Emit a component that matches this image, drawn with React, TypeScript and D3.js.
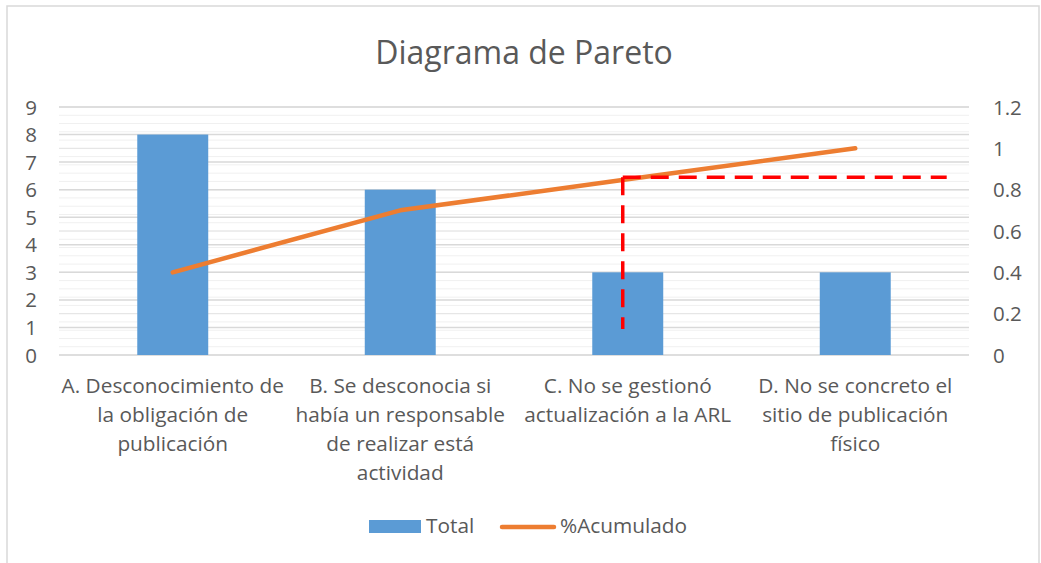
import React from "react";
import * as d3 from "d3";

const categories = [
  "A. Desconocimiento de\nla obligación de\npublicación",
  "B. Se desconocia si\nhabía un responsable\nde realizar está\nactividad",
  "C. No se gestionó\nactualización a la ARL",
  "D. No se concreto el\nsitio de publicación\nfísico",
];
const totals = [8, 6, 3, 3];
const acumulado = [0.4, 0.7, 0.85, 1.0];
const leftTicks = [0, 1, 2, 3, 4, 5, 6, 7, 8, 9];
const rightTicks = [0, 0.2, 0.4, 0.6, 0.8, 1, 1.2];
// Pareto cut annotation (category-position units, right-axis values)
const cutX = [2.478, 3.902];
const cutValue = 0.86;
const cutBottom = 0.126;

const W = 1041;
const H = 563;
const FONT = "'Open Sans', sans-serif";
const TEXT = "#595959";

export default function App() {
  const left = 59, right = 969, top = 107, bottom = 355;
  const x = d3.scaleBand<string>().domain(categories).range([left, right]).paddingInner(0.688).paddingOuter(0.344);
  const pos = d3.scaleLinear().domain([0, categories.length]).range([left, right]);
  const yL = d3.scaleLinear().domain([0, 9]).range([bottom, top]);
  const yR = d3.scaleLinear().domain([0, 1.2]).range([bottom, top]);
  const minor = d3.range(0, 1.2001, 0.04);
  const cx = (c: string) => (x(c) as number) + x.bandwidth() / 2;
  const line = d3
    .line<number>()
    .x((_, i) => cx(categories[i]))
    .y((d) => yR(d));

  return (
    <svg width={W} height={H} style={{ position: "absolute", left: 0, top: 0, background: "#fff" }} fontFamily={FONT}>
      <rect x={7} y={6} width={1032} height={620} fill="#fff" stroke="#d9d9d9" strokeWidth={1.5} />
      <text x={524} y={64} textAnchor="middle" fontSize={32} fill={TEXT}>
        Diagrama de Pareto
      </text>
      {minor.map((v, i) => (
        <line key={"m" + i} x1={left} x2={right} y1={yR(v)} y2={yR(v)} stroke="#f0f0f0" strokeWidth={1} />
      ))}
      {rightTicks.map((v, i) => (
        <line key={"r" + i} x1={left} x2={right} y1={yR(v)} y2={yR(v)} stroke="#e4e4e4" strokeWidth={1} />
      ))}
      {leftTicks.map((v, i) => (
        <line key={"l" + i} x1={left} x2={right} y1={yL(v)} y2={yL(v)} stroke="#d9d9d9" strokeWidth={1.5} />
      ))}
      {categories.map((c, i) => (
        <rect key={"b" + i} x={x(c)} y={yL(totals[i])} width={x.bandwidth()} height={bottom - yL(totals[i])} fill="#5b9bd5" />
      ))}
      <path d={line(acumulado) || ""} fill="none" stroke="#ed7d31" strokeWidth={4.5} strokeLinecap="round" strokeLinejoin="round" />
      <line x1={pos(cutX[0])} x2={pos(cutX[0])} y1={yR(cutValue)} y2={yR(cutBottom)} stroke="#ff0000" strokeWidth={3.5} strokeDasharray="18 10" />
      <line x1={pos(cutX[0])} x2={pos(cutX[1])} y1={yR(cutValue)} y2={yR(cutValue)} stroke="#ff0000" strokeWidth={3.5} strokeDasharray="18 10" />
      {leftTicks.map((v, i) => (
        <text key={"lt" + i} x={37} y={yL(v) + 7.5} textAnchor="end" fontSize={20.5} fill={TEXT}>
          {v}
        </text>
      ))}
      {rightTicks.map((v, i) => (
        <text key={"rt" + i} x={993} y={yR(v) + 7.5} textAnchor="start" fontSize={20.5} fill={TEXT}>
          {String(v)}
        </text>
      ))}
      {categories.map((c, i) => (
        <text key={"c" + i} x={cx(c)} y={393} textAnchor="middle" fontSize={20.8} fill={TEXT}>
          {c.split("\n").map((ln, j) => (
            <tspan key={j} x={cx(c)} y={393 + j * 29}>
              {ln}
            </tspan>
          ))}
        </text>
      ))}
      <rect x={369} y={520} width={52} height={13} fill="#5b9bd5" />
      <text x={426} y={533} fontSize={20.8} fill={TEXT}>Total</text>
      <line x1={502} x2={554} y1={527} y2={527} stroke="#ed7d31" strokeWidth={4.5} strokeLinecap="round" />
      <text x={560} y={533} fontSize={20.8} fill={TEXT}>%Acumulado</text>
    </svg>
  );
}
